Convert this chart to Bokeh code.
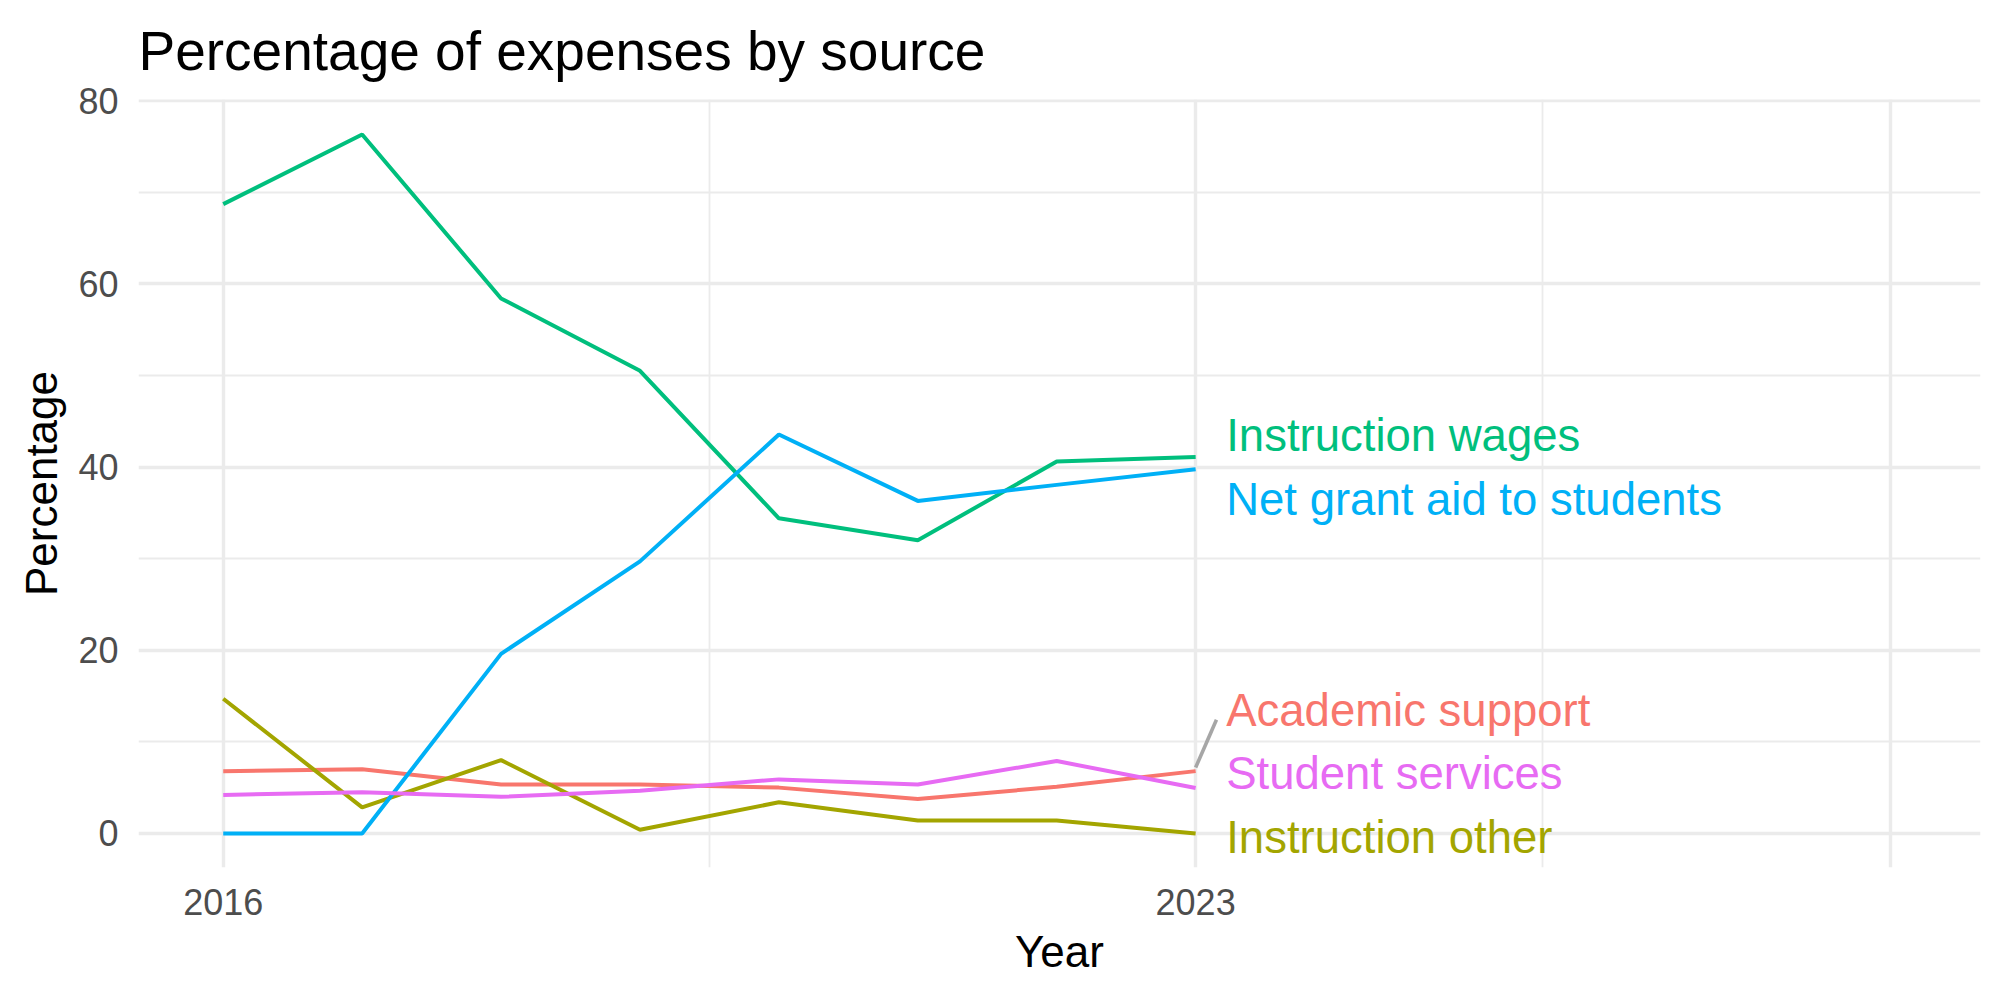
from bokeh.plotting import figure
from bokeh.models import ColumnDataSource, FixedTicker, Grid
from bokeh.embed import file_html
from bokeh.resources import INLINE

# ---- data ----
years = [2016, 2017, 2018, 2019, 2020, 2021, 2022, 2023]
academic_support = [6.8, 7.0, 5.35, 5.35, 5.0, 3.75, 5.1, 6.8]
instruction_other = [14.7, 2.85, 8.0, 0.4, 3.4, 1.4, 1.4, 0.0]
instruction_wages = [68.7, 76.3, 58.4, 50.5, 34.4, 32.0, 40.6, 41.1]
net_grant_aid = [0.0, 0.0, 19.6, 29.7, 43.55, 36.3, 38.05, 39.75]
student_services = [4.2, 4.5, 4.0, 4.65, 5.9, 5.35, 7.9, 4.95]

series_names = ["Academic support", "Instruction other", "Instruction wages",
                "Net grant aid to students", "Student services"]
series_values = [academic_support, instruction_other, instruction_wages,
                 net_grant_aid, student_services]

y_ticks = [0, 20, 40, 60, 80]
x_ticks = [2016, 2023]

# ---- styles / layout ----
colors = ["#F8766D", "#A3A500", "#00BF7D", "#00B0F6", "#E76BF3"]
label_baseline = [13.4, -0.4, 43.4, 36.5, 6.55]
label_x = 2023.22
FONT = "Liberation Sans"

p = figure(width=2000, height=1000,
           x_range=(2015.39, 2028.65), y_range=(-3.72, 80.12),
           min_border_left=138, min_border_right=20,
           min_border_top=99, min_border_bottom=133,
           toolbar_location=None, output_backend="svg",
           title="Percentage of expenses by source")
p.outline_line_color = None
p.background_fill_color = "white"
p.border_fill_color = "white"

p.title.text_font = FONT
p.title.text_font_size = "55px"
p.title.text_font_style = "normal"
p.title.text_color = "black"
p.title.align = "left"
p.title.vertical_align = "middle"
p.title.offset = 0
p.title.standoff = 33

# axes
p.xaxis.ticker = FixedTicker(ticks=x_ticks, minor_ticks=[2019.5, 2025.5])
p.yaxis.ticker = FixedTicker(ticks=y_ticks, minor_ticks=[10, 30, 50, 70])
for ax in (p.xaxis[0], p.yaxis[0]):
    ax.axis_line_color = None
    ax.major_tick_line_color = None
    ax.minor_tick_line_color = None
    ax.major_label_text_font = FONT
    ax.major_label_text_font_size = "36px"
    ax.major_label_text_color = "#4D4D4D"
    ax.axis_label_text_font = FONT
    ax.axis_label_text_font_size = "44px"
    ax.axis_label_text_font_style = "normal"
    ax.axis_label_text_color = "black"
p.xaxis.axis_label = "Year"
p.yaxis.axis_label = "Percentage"
p.xaxis.major_label_standoff = 15
p.xaxis.axis_label_standoff = 9
p.yaxis.major_label_standoff = 14
p.yaxis.axis_label_standoff = 9

# grids
for g in (p.xgrid[0], p.ygrid[0]):
    g.grid_line_color = "#EBEBEB"
    g.grid_line_width = 3.4
    g.minor_grid_line_color = "#EBEBEB"
    g.minor_grid_line_width = 1.8
extra = Grid(dimension=0, ticker=FixedTicker(ticks=[2028]),
             grid_line_color="#EBEBEB", grid_line_width=3.4)
p.add_layout(extra)

# lines
for name, vals, col in zip(series_names, series_values, colors):
    src = ColumnDataSource(dict(x=years, y=vals))
    p.line("x", "y", source=src, line_color=col, line_width=4.0)

# connector segment for repelled label
p.segment(x0=[years[-1]], y0=[academic_support[-1] + 0.4],
          x1=[2023.15], y1=[12.4], line_color="#A6A6A6", line_width=3.6)

# direct labels
lab_src = ColumnDataSource(dict(x=[label_x] * len(series_names),
                                y=label_baseline, text=series_names, color=colors))
p.text("x", "y", text="text", source=lab_src, text_color="color",
       text_font_size="45.5px", text_align="left", text_baseline="alphabetic",
       text_font={"value": FONT})

open("out.html", "w").write(file_html(p, INLINE))
